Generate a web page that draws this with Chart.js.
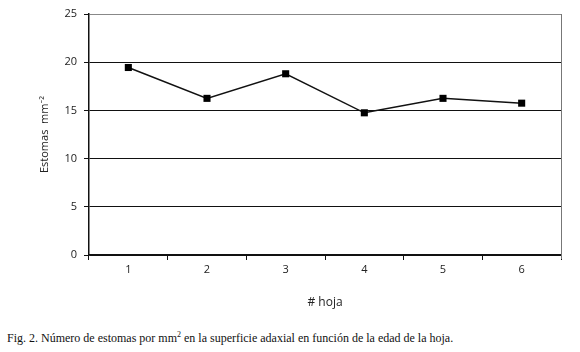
<!DOCTYPE html>
<html><head><meta charset="utf-8">
<script src="https://cdn.jsdelivr.net/npm/chart.js@4/dist/chart.umd.min.js"></script>
<style>
html,body{margin:0;padding:0;background:#fff;}
#wrap{position:relative;width:580px;height:352px;}
#c{position:absolute;left:0;top:0;}
#cap{position:absolute;left:7px;top:331px;font-family:"Liberation Serif","DejaVu Serif",serif;font-size:12px;color:#111;white-space:nowrap;}
</style></head>
<body><div id="wrap"><canvas id="c" width="580" height="320"></canvas>
<div id="cap">Fig. 2. Número de estomas por mm<sup style="font-size:8px;vertical-align:5px;line-height:0">2</sup> en la superficie adaxial en función de la edad de la hoja.</div></div>
<script>
const categories = ['1','2','3','4','5','6'];
const estomas = [19.45, 16.25, 18.8, 14.75, 16.25, 15.75];
const yTicks = [0,5,10,15,20,25];

const sans = '"Open Sans","Noto Sans","DejaVu Sans",sans-serif';
const rightBorder = {
  id: 'rightBorder',
  beforeDatasetsDraw(chart) {
    const { ctx, chartArea: a } = chart;
    ctx.save();
    ctx.strokeStyle = '#777';
    ctx.lineWidth = 1;
    ctx.beginPath();
    ctx.moveTo(Math.round(a.right) + 0.5, a.top);
    ctx.lineTo(Math.round(a.right) + 0.5, a.bottom + 4);
    ctx.stroke();
    ctx.restore();
  }
};
new Chart(document.getElementById('c'), {
  type: 'line',
  data: { labels: categories, datasets: [{
    data: estomas, borderColor: '#111', borderWidth: 1.5, tension: 0,
    pointStyle: 'rect', pointRadius: 5, pointBackgroundColor: '#000', pointBorderColor: '#000', pointBorderWidth: 0
  }]},
  plugins: [rightBorder],
  options: {
    responsive: false, animation: false,
    layout: { padding: { left: 0, right: 19, top: 14, bottom: 0 } },
    plugins: { legend: { display: false }, tooltip: { enabled: false } },
    scales: {
      x: {
        offset: true,
        grid: { offset: true, drawOnChartArea: false, drawTicks: true, tickLength: 5, color: '#111' },
        border: { color: '#111', width: 1.5 },
        ticks: { color: '#222', font: { family: sans, size: 11 }, padding: 3 },
        title: { display: true, text: '# hoja', color: '#222', font: { family: sans, size: 12 }, padding: { top: 0, bottom: 10 } },
        afterFit: s => { s.height = 65; }
      },
      y: {
        min: 0, max: 25,
        afterBuildTicks: s => { s.ticks = yTicks.map(v => ({ value: v })); },
        grid: { color: ctx => ctx.tick && ctx.tick.value === 25 ? '#888' : '#111', lineWidth: 1, tickLength: 5, tickColor: '#111' },
        border: { color: '#111', width: 1.5 },
        ticks: { color: '#222', font: { family: sans, size: 11 }, padding: 7 },
        title: { display: true, text: 'Estomas  mm⁻²', color: '#222', font: { family: sans, size: 11 }, padding: { top: 38, bottom: 0 } },
        afterFit: s => { s.width = 89; }
      }
    }
  }
});
</script></body></html>
